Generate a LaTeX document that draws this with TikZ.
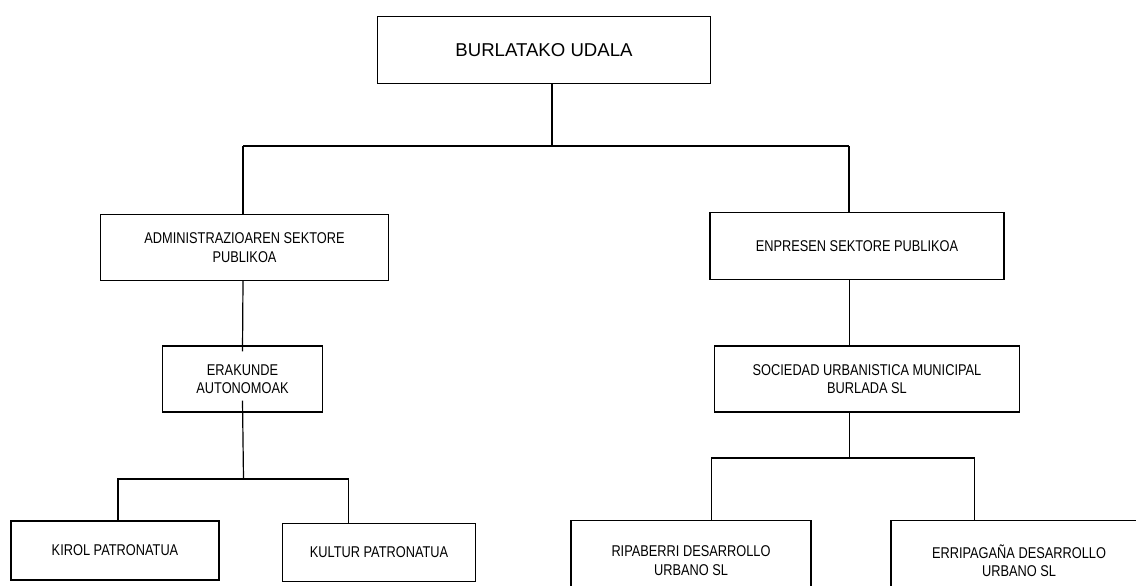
\documentclass[tikz,border=0pt]{standalone}
\usepackage{fontspec}
\setmainfont{Liberation Sans}
\newfontfamily\narrowfont[FakeStretch=0.82]{Liberation Sans}

\begin{document}
\begin{tikzpicture}[x=1pt, y=-1pt,
    box/.style={draw, line width=1.2pt, inner sep=0pt, align=center,
        font=\narrowfont\fontsize{15.6}{18.5}\selectfont},
    link/.style={line width=1.2pt},
    heavy/.style={line width=2pt}]
    \useasboundingbox (0,0) rectangle (1136,586);
    \clip (0,0) rectangle (1136,586);

    % Udala
    \node[box, minimum width=333pt, minimum height=67pt, font=\fontsize{18.6}{22}\selectfont] (udala) at (544,50) {BURLATAKO UDALA};

    % Sektoreak
    \node[box, minimum width=288pt, minimum height=66pt] (admin) at (244.5,247.5) {ADMINISTRAZIOAREN SEKTORE\\PUBLIKOA};
    \node[box, minimum width=294pt, minimum height=67pt] (enpresa) at (857,246) {ENPRESEN SEKTORE PUBLIKOA};

    % Bigarren maila
    \node[box, minimum width=160pt, minimum height=66pt] (erakunde) at (242.5,379) {ERAKUNDE\\AUTONOMOAK};
    \node[box, minimum width=305pt, minimum height=66pt] (sociedad) at (867,379) {SOCIEDAD URBANISTICA MUNICIPAL\\BURLADA SL};

    % Hirugarren maila
    \node[box, minimum width=208pt, minimum height=59pt] (kirol) at (115,550.5) {KIROL PATRONATUA};
    \node[box, minimum width=193pt, minimum height=58pt] (kultur) at (379,552.5) {KULTUR PATRONATUA};
    \node[box, minimum width=240pt, minimum height=80pt] (ripaberri) at (691,560.5) {RIPABERRI DESARROLLO\\URBANO SL};
    \node[box, minimum width=256pt, minimum height=80pt] (erripagana) at (1019,560.5) {ERRIPAGAÑA DESARROLLO\\URBANO SL};

    % Junctions
    \coordinate (b1) at (552,146);
    \coordinate (b1l) at (243,146);
    \coordinate (b1r) at (849,146);
    \coordinate (b2) at (243.5,479);
    \coordinate (b2l) at (118,479);
    \coordinate (b2m) at (163,479);
    \coordinate (b2r) at (348.5,479);
    \coordinate (b3) at (849.5,458);
    \coordinate (b3l) at (711.5,458);
    \coordinate (b3r) at (974.5,458);

    \draw[link] (udala.south -| b1) -- (b1);
    \draw[link] (b1l) -- (b1r);
    \draw[heavy] (b1l) -- (b1l |- admin.north);
    \draw[link] (b1r) -- (b1r |- enpresa.north);
    \draw[link] (admin.south -| b1l) -- ([yshift=-6pt]erakunde.north);
    \draw[link] ([yshift=12pt]erakunde.south) -- (b2);
    \draw[heavy] (b2m) -- (b2l) -- (b2l |- kirol.north);
    \draw[link] (b2m) -- (b2r) -- (b2r |- kultur.north);
    \draw[link] (enpresa.south -| b3) -- (b3 |- sociedad.north);
    \draw[link] (sociedad.south -| b3) -- (b3);
    \draw[link] (b3l |- ripaberri.north) -- (b3l) -- (b3r) -- (b3r |- erripagana.north);
\end{tikzpicture}
\end{document}
